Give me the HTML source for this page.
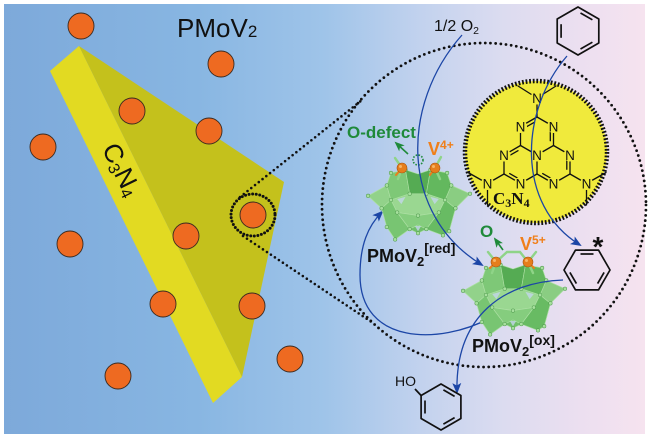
<!DOCTYPE html>
<html><head><meta charset="utf-8"><style>
html,body{margin:0;padding:0;background:#fff;width:650px;height:439px;overflow:hidden}
svg{display:block}
text{font-family:"Liberation Sans",Arial,sans-serif}
</style></head><body>
<svg width="650" height="439" viewBox="0 0 650 439" xmlns="http://www.w3.org/2000/svg">
<defs>
<linearGradient id="bg" x1="0" y1="0" x2="1" y2="0">
<stop offset="0" stop-color="#7da9da"/>
<stop offset="0.3" stop-color="#88b6e2"/>
<stop offset="0.5" stop-color="#9fc4e9"/>
<stop offset="0.65" stop-color="#c2d2ee"/>
<stop offset="0.78" stop-color="#dcdcf0"/>
<stop offset="0.9" stop-color="#ecdff0"/>
<stop offset="1" stop-color="#f6e3ef"/>
</linearGradient>
<marker id="ab" markerWidth="11" markerHeight="9" refX="9" refY="4.5" orient="auto" markerUnits="userSpaceOnUse"><path d="M0,0 L11,4.5 L0,9 L2.5,4.5 Z" fill="#1c46a6"/></marker>
<marker id="ag" markerWidth="10" markerHeight="8" refX="8" refY="4" orient="auto" markerUnits="userSpaceOnUse"><path d="M0,0 L10,4 L0,8 L2.5,4 Z" fill="#1f8a3a"/></marker>
<g id="pom">
<g stroke="#aee0a5" stroke-width="0.6" stroke-linejoin="round">
<polygon fill="#6fbf69" points="-48,-4 -30,-14 -26,-26 -12,-29 0,-25 12,-29 28,-26 32,-14 50,-6 36,8 30,30 24,34 8,28 0,32 -8,28 -22,38 -30,26 -35,8"/>
<polygon fill="#92d28a" points="-48,-4 -30,-14 -26,0 -35,8"/>
<polygon fill="#8acd82" points="50,-6 32,-14 26,0 36,8"/>
<polygon fill="#7ec877" points="-30,-14 -26,-26 -12,-29 -8,-6 -26,0"/>
<polygon fill="#55ab53" points="-12,-29 0,-25 12,-29 8,-6 -8,-6"/>
<polygon fill="#63b85e" points="12,-29 28,-26 32,-14 26,0 8,-6"/>
<polygon fill="#9ad791" points="-26,0 -8,-6 8,-6 26,0 20,12 0,15 -20,12"/>
<polygon fill="#78c572" points="-35,8 -26,0 -20,12 -8,28 -22,38 -30,26"/>
<polygon fill="#68bb63" points="36,8 26,0 20,12 8,28 24,34 30,30"/>
<polygon fill="#85cd7e" points="-20,12 0,15 20,12 8,28 0,24 -8,28"/>
</g>
<g fill="#c4d6ec" opacity="0.8">
<polygon points="-20,-1 -12,-3 -16,4"/>
<polygon points="12,-3 20,-1 16,4"/>
<polygon points="-3,25 3,25 0,30"/>
</g>
<g fill="#a7e09e" stroke="#4f9a4d" stroke-width="0.5">
<circle cx="-48" cy="-4" r="1.7"/><circle cx="50" cy="-6" r="1.7"/>
<circle cx="-30" cy="-14" r="1.7"/><circle cx="32" cy="-14" r="1.7"/>
<circle cx="-26" cy="0" r="1.7"/><circle cx="26" cy="0" r="1.7"/>
<circle cx="-35" cy="8" r="1.7"/><circle cx="36" cy="8" r="1.7"/>
<circle cx="-20" cy="12" r="1.7"/><circle cx="20" cy="12" r="1.7"/>
<circle cx="0" cy="15" r="1.7"/><circle cx="-8" cy="28" r="1.7"/>
<circle cx="8" cy="28" r="1.7"/><circle cx="-22" cy="38" r="1.7"/>
<circle cx="24" cy="34" r="1.7"/><circle cx="30" cy="30" r="1.7"/>
<circle cx="-30" cy="26" r="1.7"/><circle cx="0" cy="32" r="1.7"/>
<circle cx="-12" cy="-29" r="1.7"/><circle cx="12" cy="-29" r="1.7"/>
<circle cx="-26" cy="-26" r="1.7"/><circle cx="28" cy="-26" r="1.7"/>
<circle cx="-8" cy="-6" r="1.7"/><circle cx="8" cy="-6" r="1.7"/>
</g>
</g>
</defs>

<rect x="4" y="4" width="641" height="430" fill="url(#bg)"/>

<polygon points="50,71 79,46 242,377 213,403" fill="#e2da22"/>
<polygon points="79,46 284,182 242,377" fill="#c4c11c"/>
<text x="121" y="178" font-size="26" fill="#111" text-anchor="middle" transform="rotate(64 121 170)">C<tspan font-size="16" dy="3">3</tspan><tspan dy="-3">N</tspan><tspan font-size="16" dy="3">4</tspan></text>

<g fill="#ee6a21" stroke="#3a2a20" stroke-width="0.9">
<circle cx="81" cy="26" r="13"/>
<circle cx="221" cy="64" r="13"/>
<circle cx="132" cy="111" r="13"/>
<circle cx="209" cy="131" r="13"/>
<circle cx="43" cy="147" r="13"/>
<circle cx="253" cy="215" r="13"/>
<circle cx="70" cy="244" r="13"/>
<circle cx="186" cy="236" r="13"/>
<circle cx="163" cy="304" r="13"/>
<circle cx="252" cy="306" r="13"/>
<circle cx="290" cy="359" r="13"/>
<circle cx="118" cy="376" r="13"/>
</g>

<text x="177" y="37" font-size="26" fill="#111">PMoV<tspan font-size="17">2</tspan></text>

<g fill="none" stroke="#111" stroke-linecap="round">
<ellipse cx="253" cy="215" rx="22" ry="21" stroke-width="3" stroke-dasharray="0 3.6" />
<line x1="240" y1="197" x2="362" y2="100" stroke-width="2.6" stroke-dasharray="0 4.8"/>
<line x1="243" y1="236" x2="373" y2="323" stroke-width="2.6" stroke-dasharray="0 4.8"/>
<circle cx="484" cy="205" r="162" stroke-width="2.8" stroke-dasharray="0 5.2"/>
</g>

<circle cx="536" cy="152" r="71" fill="#f0ea3c"/>
<circle cx="536" cy="152" r="71" fill="none" stroke="#111" stroke-width="4.5" stroke-dasharray="1.8 1.8"/>
<g stroke="#111" stroke-width="1.3" stroke-linecap="round">
<line x1="537" y1="117" x2="553.5" y2="126.5"/>
<line x1="537" y1="117" x2="520.5" y2="126.5"/>
<line x1="520.5" y1="126.5" x2="520.5" y2="145.5"/>
<line x1="553.5" y1="126.5" x2="553.5" y2="145.5"/>
<line x1="520.5" y1="145.5" x2="537" y2="155"/>
<line x1="553.5" y1="145.5" x2="537" y2="155"/>
<line x1="537" y1="174" x2="537" y2="155"/>
<line x1="520.5" y1="145.5" x2="504" y2="155"/>
<line x1="504" y1="155" x2="504" y2="174"/>
<line x1="504" y1="174" x2="520.5" y2="183.5"/>
<line x1="520.5" y1="183.5" x2="537" y2="174"/>
<line x1="553.5" y1="145.5" x2="570" y2="155"/>
<line x1="570" y1="155" x2="570" y2="174"/>
<line x1="570" y1="174" x2="553.5" y2="183.5"/>
<line x1="553.5" y1="183.5" x2="537" y2="174"/>
<line x1="537" y1="117" x2="537" y2="98"/>
<line x1="537" y1="98" x2="518" y2="86"/>
<line x1="537" y1="98" x2="556" y2="86"/>
<line x1="504" y1="174" x2="487.5" y2="183.5"/>
<line x1="487.5" y1="183.5" x2="468" y2="172.5"/>
<line x1="487.5" y1="183.5" x2="487.5" y2="205"/>
<line x1="570" y1="174" x2="586.5" y2="183.5"/>
<line x1="586.5" y1="183.5" x2="606" y2="172.5"/>
<line x1="586.5" y1="183.5" x2="586.5" y2="205"/>
<line x1="534.5" y1="122.2" x2="526.2" y2="126.9"/>
<line x1="550.3" y1="140.75" x2="550.3" y2="131.25"/>
<line x1="518" y1="150.7" x2="509.7" y2="155.4"/>
<line x1="509.7" y1="173.6" x2="518" y2="178.3"/>
<line x1="566.8" y1="159.75" x2="566.8" y2="169.25"/>
<line x1="542.7" y1="173.6" x2="551" y2="178.3"/>
</g>
<g fill="#f0ea3c">
<circle cx="537" cy="98" r="6.5"/>
<circle cx="520.5" cy="126.5" r="6.5"/><circle cx="553.5" cy="126.5" r="6.5"/>
<circle cx="537" cy="155" r="6.5"/><circle cx="504" cy="155" r="6.5"/><circle cx="570" cy="155" r="6.5"/>
<circle cx="520.5" cy="183.5" r="6.5"/><circle cx="553.5" cy="183.5" r="6.5"/>
<circle cx="487.5" cy="183.5" r="6.5"/><circle cx="586.5" cy="183.5" r="6.5"/>
</g>
<g font-size="13.5" fill="#111" text-anchor="middle">
<text x="537" y="103">N</text>
<text x="520.5" y="131.5">N</text><text x="553.5" y="131.5">N</text>
<text x="537" y="160">N</text><text x="504" y="160">N</text><text x="570" y="160">N</text>
<text x="520.5" y="188.5">N</text><text x="553.5" y="188.5">N</text>
<text x="487.5" y="188.5">N</text><text x="586.5" y="188.5">N</text>
</g>
<text x="493" y="204" font-size="17" font-weight="bold" fill="#111" style="font-family:'Liberation Serif','Times New Roman',serif">C<tspan font-size="12" dy="3">3</tspan><tspan dy="-3">N</tspan><tspan font-size="12" dy="3">4</tspan></text>

<path d="M490,318 C440,345 360,345 360,275 C360,245 368,226 382,212" fill="none" stroke="#1c46a6" stroke-width="1.3" marker-end="url(#ab)"/>

<use href="#pom" transform="translate(418,200) scale(1.04)"/>
<use href="#pom" transform="translate(513,295) scale(1.04)"/>

<g stroke="#8fd488" stroke-width="2.4" stroke-linecap="round" fill="none">
<line x1="402" y1="168" x2="395" y2="158"/>
<line x1="402" y1="168" x2="398" y2="179"/>
<line x1="435" y1="168" x2="441" y2="157"/>
<line x1="435" y1="168" x2="440" y2="179"/>
<polyline points="496,262 488,252"/>
<polyline points="496,262 507,252 520,252 528,262"/>
<polyline points="528,262 536,252"/>
<line x1="496" y1="262" x2="492" y2="273"/>
<line x1="528" y1="262" x2="533" y2="273"/>
</g>
<g stroke="#e8801c" stroke-width="2" stroke-linecap="round">
<line x1="402" y1="168" x2="396" y2="175"/>
<line x1="435" y1="168" x2="430" y2="175"/>
<line x1="496" y1="262" x2="490" y2="268"/>
<line x1="528" y1="262" x2="534" y2="268"/>
</g>
<g fill="#e67e1c" stroke="#a95510" stroke-width="0.6">
<circle cx="402" cy="168" r="5"/><circle cx="435" cy="168" r="5"/>
<circle cx="496" cy="262" r="5"/><circle cx="528" cy="262" r="5"/>
</g>
<g fill="#f6b565">
<circle cx="400.5" cy="166.5" r="1.5"/><circle cx="433.5" cy="166.5" r="1.5"/>
<circle cx="494.5" cy="260.5" r="1.5"/><circle cx="526.5" cy="260.5" r="1.5"/>
</g>
<circle cx="418" cy="160" r="5" fill="none" stroke="#1f8a3a" stroke-width="1.6" stroke-dasharray="1.5 1.5"/>
<line x1="408" y1="154" x2="396" y2="143" stroke="#1f8a3a" stroke-width="1.6" marker-end="url(#ag)"/>
<line x1="503" y1="250" x2="495" y2="239" stroke="#1f8a3a" stroke-width="1.6" marker-end="url(#ag)"/>

<g fill="none" stroke="#1c46a6" stroke-width="1.3">
<path d="M462,35 C400,105 400,215 482,265" marker-end="url(#ab)"/>
<path d="M567,56 C520,110 515,205 580,245" marker-end="url(#ab)"/>
<path d="M563,280 C505,282 455,315 457,392" marker-end="url(#ab)"/>
</g>

<g fill="none" stroke="#111" stroke-width="1.7" stroke-linejoin="round">
<polygon points="578,7 598.8,19 598.8,43 578,55 557.2,43 557.2,19"/>
<line x1="580.5" y1="12.96" x2="592.4" y2="19.8"/>
<line x1="592.4" y1="42.2" x2="580.5" y2="49.04"/>
<line x1="561.1" y1="37.8" x2="561.1" y2="24.2"/>
<polygon points="610,270 598.5,289.9 575.5,289.9 564,270 575.5,250.1 598.5,250.1"/>
<line x1="580.5" y1="254" x2="593.5" y2="254"/>
<line x1="604.1" y1="272.4" x2="597.6" y2="283.6"/>
<line x1="576.4" y1="283.6" x2="569.9" y2="272.4"/>
<polygon points="441,384 460.9,395.5 460.9,418.5 441,430 421.1,418.5 421.1,395.5"/>
<line x1="443.4" y1="389.9" x2="454.6" y2="396.4"/>
<line x1="454.6" y1="417.6" x2="443.4" y2="424.1"/>
<line x1="425" y1="413.5" x2="425" y2="400.5"/>
<line x1="421.1" y1="395.5" x2="415" y2="389"/>
</g>

<text x="434" y="31" font-size="16" fill="#111">1/2 O<tspan font-size="10.5" dy="3">2</tspan></text>
<text x="598" y="256" font-size="28" font-weight="bold" fill="#111" text-anchor="middle">*</text>
<text x="395" y="386" font-size="14" fill="#111">HO</text>
<text x="347" y="138" font-size="17" font-weight="bold" fill="#1f8a3a">O-defect</text>
<text x="428" y="155" font-size="18" font-weight="bold" fill="#f07f1a">V<tspan font-size="12" dy="-6">4+</tspan></text>
<text x="480" y="237" font-size="17" font-weight="bold" fill="#1f8a3a">O</text>
<text x="520" y="250" font-size="18" font-weight="bold" fill="#f07f1a">V<tspan font-size="12" dy="-6">5+</tspan></text>
<text x="367" y="262" font-size="18" font-weight="bold" fill="#111">PMoV<tspan font-size="13" dy="4">2</tspan><tspan font-size="14" dy="-13">[red]</tspan></text>
<text x="472" y="352" font-size="18" font-weight="bold" fill="#111">PMoV<tspan font-size="13" dy="4">2</tspan><tspan font-size="14" dy="-11">[ox]</tspan></text>
</svg>
</body></html>
